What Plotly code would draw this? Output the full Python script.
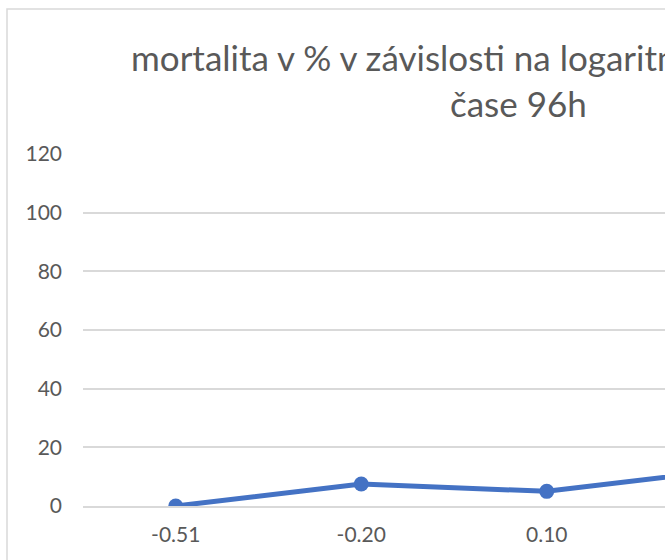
import plotly.graph_objects as go

categories = ["-0.51", "-0.20", "0.10", "0.40"]
mortality = [0, 7.5, 5, 12.5]
y_ticks = [0, 20, 40, 60, 80, 100, 120]
title_line1 = "mortalita v % v závislosti na logaritme koncentrácie v"
title_line2 = "čase 96h"

W, H = 665, 560
plot_left, plot_top, plot_bottom = 83, 154, 506
L, R, T, B = plot_left, 0, plot_top, H - plot_bottom
pw, ph = W - L - R, H - T - B
cat_step = 185.5

def px_x(x):
    return (x - L) / pw

def px_y(y):
    return (plot_bottom - y) / ph

font = "Lato, 'Open Sans', sans-serif"
grey = "#595959"
grid = "#d9d9d9"

fig = go.Figure()
fig.add_trace(go.Scatter(
    x=categories, y=mortality, mode="lines+markers",
    line=dict(color="#4472C4", width=5),
    marker=dict(color="#4472C4", size=15),
    showlegend=False, hoverinfo="x+y",
))

fig.update_layout(
    width=W, height=H, autosize=False,
    margin=dict(l=L, r=R, t=T, b=B, pad=0),
    paper_bgcolor="white", plot_bgcolor="white",
    font=dict(family=font, color=grey, size=20),
    xaxis=dict(
        type="category", range=[-0.5, -0.5 + pw / cat_step],
        showgrid=False, showline=True, linecolor=grid, linewidth=1.5,
        ticks="", tickfont=dict(size=21, color=grey), ticklabelstandoff=9,
        zeroline=False, fixedrange=True,
    ),
    yaxis=dict(
        range=[0, 120], tickvals=y_ticks, showgrid=True, gridcolor=grid,
        gridwidth=1.5, zeroline=False, showline=False, ticks="",
        tickfont=dict(size=21, color=grey), ticklabelstandoff=20,
        fixedrange=True,
    ),
    shapes=[dict(
        type="rect", xref="paper", yref="paper",
        x0=px_x(7), x1=px_x(1200), y0=px_y(800), y1=px_y(9),
        line=dict(color=grid, width=1.5), layer="below",
    )],
    annotations=[
        dict(text=title_line1, xref="paper", yref="paper",
             x=px_x(129), y=px_y(57), xanchor="left", yanchor="middle",
             showarrow=False, font=dict(size=35, color=grey, family=font)),
        dict(text=title_line2, xref="paper", yref="paper",
             x=px_x(518), y=px_y(103), xanchor="center", yanchor="middle",
             showarrow=False, font=dict(size=35, color=grey, family=font)),
    ],
)

fig.write_html(
    "out.html",
    config={"displayModeBar": False},
    post_script="document.body.style.margin='0';document.body.style.overflow='hidden';",
)
